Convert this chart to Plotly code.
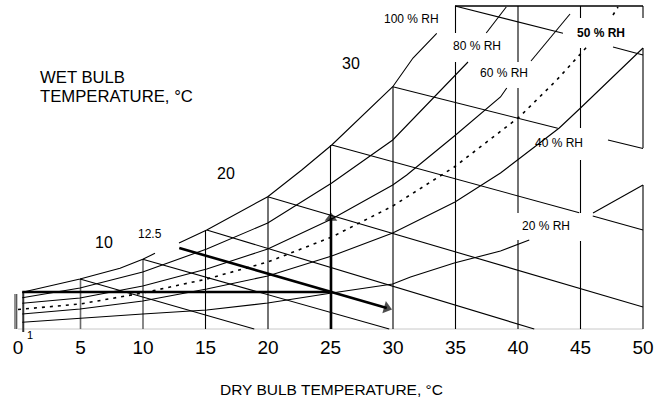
import plotly.graph_objects as go

# ---- values (dry-bulb temperature in degC, moisture content in g/kg) ----
# Relative humidity curves (None = break in the line under a label)
rh100_t = [0.34, 4.96, 8.16, 9.98, 10.96, None, 12.88, 15.1, 19.98, 22.7, 25.1, 29.98, 31.6, 33.5]
rh100_w = [3.67, 5.0, 6.07, 6.97, 7.57, None, 8.6, 9.9, 13.23, 15.9, 18.4, 24.23, 27.1, 29.57]

rh80_t = [0.34, 4.96, 9.98, 15.1, 19.98, 25.1, 29.98, 34.96, 36.0, None, 37.46, 39.06]
rh80_w = [3.13, 4.1, 5.7, 8.0, 10.6, 14.6, 18.9, 25.4, 26.7, None, 29.6, 32.2]

rh60_t = [0.34, 4.96, 9.98, 15.1, 19.98, 25.1, 29.98, 31.1, 34.96, 38.6, 39.1, None, 41.04, 44.16]
rh60_w = [2.57, 3.1, 4.3, 6.0, 8.0, 11.0, 14.4, 15.4, 19.35, 23.2, 24.1, None, 26.8, 31.5]

rh50_t = [0.0, 4.96, 9.98, 15.1, 19.98, 25.1, 29.98, 34.9, 40.1, 43.1, 45.5, None, 47.6, 48.0]
rh50_w = [1.95, 2.5, 3.6, 5.0, 6.7, 9.2, 12.3, 16.2, 21.2, 24.9, 28.2, None, 31.4, 32.2]

rh40_t = [0.34, 4.96, 9.98, 15.1, 19.98, 25.1, 29.98, 34.96, 38.6, 43.3, 45.0, 50.0]
rh40_w = [1.5, 2.0, 2.8, 4.0, 5.3, 7.3, 9.6, 12.7, 15.6, 20.1, 22.1, 28.1]

rh20_t = [0.34, 4.96, 9.98, 15.1, 19.98, 25.1, 29.98, 31.4, 34.9, 38.6, 40.9, None, 46.0, 50.0]
rh20_w = [0.67, 1.1, 1.5, 1.9, 2.6, 3.6, 4.5, 5.2, 6.6, 7.8, 8.9, None, 11.6, 14.4]

# Wet-bulb lines
wb5_t, wb5_w = [4.96, 18.9], [5.0, 0.0]
wb10_t, wb10_w = [9.98, 29.7], [6.97, 0.0]
wb15_t, wb15_w = [15.1, 41.3], [9.9, 0.0]
wb20_t, wb20_w = [19.98, 50.0], [13.23, 2.2]
wb25_t, wb25_w = [25.1, 44.9, None, 45.98, 50.0], [18.4, 11.63, None, 11.3, 9.9]
wb30_t, wb30_w = [29.98, 43.18, None, 47.2, 50.0], [24.23, 20.07, None, 18.9, 18.05]
wb35_t, wb35_w = [34.96, 43.6, None, 47.6, 50.0], [32.3, 29.57, None, 28.2, 27.4]

# Dry-bulb vertical lines: (temperature, [(w_from, w_to), ...])
db_lines = [
    (5, [(0, 5.0)]),
    (10, [(0, 6.97)]),
    (15, [(0, 9.9)]),
    (20, [(0, 13.23)]),
    (25, [(0, 18.4)]),
    (30, [(0, 24.23)]),
    (35, [(0, 26.7), (29.6, 32.3)]),
    (40, [(0, 8.9), (11.6, 24.1), (26.7, 32.3)]),
    (45, [(0, 8.8), (11.6, 16.9), (20.1, 28.1), (31.1, 32.3)]),
    (50, [(0, 14.4), (18.1, 28.1), (31.1, 32.3)]),
]
grey_db = [5, 10]
zero_lines_t = [-0.24, -0.1]
zero_lines_w = (0.0, 3.5)
zero_thick_t = 0.42
zero_thick_w = (-0.3, 3.7)

top_t, top_w = [34.96, 50.0], [32.3, 32.3]
base_t, base_w = [0.0, 50.0], [0.0, 0.0]

# Process lines
heat_t, heat_w = [0.34, 25.04], [3.7, 3.7]
rise_t, rise_w = [25.04, 25.04], [0.0, 11.1]
evap_t, evap_w = [12.9, 29.5], [8.1, 2.11]

tick_vals = [0, 5, 10, 15, 20, 25, 30, 35, 40, 45, 50]
tick_text = [str(v) for v in tick_vals]

rh_labels = [("100 % RH", 31.44, 31.0, False), ("80 % RH", 36.68, 28.3, False),
             ("60 % RH", 38.88, 25.6, False), ("50 % RH", 46.6, 29.6, True),
             ("40 % RH", 43.24, 18.6, False), ("20 % RH", 42.24, 10.3, False)]
wb_labels = [("30", 26.64, 26.6, 16), ("20", 16.64, 15.55, 16), ("10", 6.84, 8.65, 16),
             ("12.5", 10.56, 9.5, 12), ("1", 0.96, -0.6, 11)]

FONT = "Liberation Sans, Arial, sans-serif"

fig = go.Figure()

def add_line(t, w, color="black", width=1.1, dash=None):
    fig.add_trace(go.Scatter(x=t, y=w, mode="lines", hoverinfo="skip", showlegend=False,
                             line=dict(color=color, width=width, dash=dash)))

# baseline
add_line(base_t, base_w, color="#c8c8c8", width=1)

# vertical dry-bulb lines
vx, vy, gx, gy = [], [], [], []
for t, segs in db_lines:
    for a, b in segs:
        if t in grey_db:
            gx += [t, t, None]; gy += [a, b, None]
        else:
            vx += [t, t, None]; vy += [a, b, None]
add_line(vx, vy, width=1.1)
add_line(gx, gy, color="#6a6a6a", width=1.6)
zx, zy = [], []
for t in zero_lines_t:
    zx += [t, t, None]; zy += [zero_lines_w[0], zero_lines_w[1], None]
add_line(zx, zy, color="#222", width=1)
add_line([zero_thick_t, zero_thick_t], list(zero_thick_w), color="#333", width=2)
add_line(top_t, top_w, width=1.3)

# RH curves
for t, w in [(rh100_t, rh100_w), (rh80_t, rh80_w), (rh60_t, rh60_w), (rh40_t, rh40_w), (rh20_t, rh20_w)]:
    add_line(t, w, width=1.1)
add_line(rh50_t, rh50_w, width=1.6, dash="3px,5px")

# wet-bulb lines
for t, w in [(wb5_t, wb5_w), (wb10_t, wb10_w), (wb15_t, wb15_w), (wb20_t, wb20_w),
             (wb25_t, wb25_w), (wb30_t, wb30_w), (wb35_t, wb35_w)]:
    add_line(t, w, width=1.1)

# process lines
add_line(heat_t, heat_w, width=2.6)
for t, w in [(rise_t, rise_w), (evap_t, evap_w)]:
    fig.add_trace(go.Scatter(x=t, y=w, mode="lines+markers", hoverinfo="skip", showlegend=False,
                             line=dict(color="black", width=2.6),
                             marker=dict(symbol="triangle-up", size=[0, 11], color="black",
                                         angleref="previous", line=dict(width=0))))

ann = []
for txt, x, y, bold in rh_labels:
    ann.append(dict(x=x, y=y, xref="x", yref="y", text=f"<b>{txt}</b>" if bold else txt,
                    showarrow=False, font=dict(family=FONT, size=12, color="black")))
for txt, x, y, s in wb_labels:
    ann.append(dict(x=x, y=y, xref="x", yref="y", text=txt, showarrow=False,
                    font=dict(family=FONT, size=s, color="black")))
ann.append(dict(x=1.6, y=25.15, xref="x", yref="y", text="WET BULB", xanchor="left",
                showarrow=False, font=dict(family=FONT, size=16.7, color="black")))
ann.append(dict(x=1.6, y=23.3, xref="x", yref="y", text="TEMPERATURE, °C", xanchor="left",
                showarrow=False, font=dict(family=FONT, size=16.7, color="black")))
ann.append(dict(x=331.5 / 666, y=-0.15, xref="paper", yref="paper",
                text="DRY BULB TEMPERATURE, °C", showarrow=False, yanchor="middle",
                font=dict(family=FONT, size=15.5, color="black")))

fig.update_layout(
    width=666, height=398, margin=dict(l=0, r=0, t=0, b=59),
    paper_bgcolor="white", plot_bgcolor="white",
    annotations=ann,
    xaxis=dict(range=[-1.44, 51.84], tickvals=tick_vals, ticktext=tick_text, ticks="",
               showgrid=False, zeroline=False, showline=False, ticklabelstandoff=-5,
               tickfont=dict(family=FONT, size=19, color="black")),
    yaxis=dict(range=[-1, 32.9], visible=False, showgrid=False, zeroline=False),
)

fig.write_html("out.html")
